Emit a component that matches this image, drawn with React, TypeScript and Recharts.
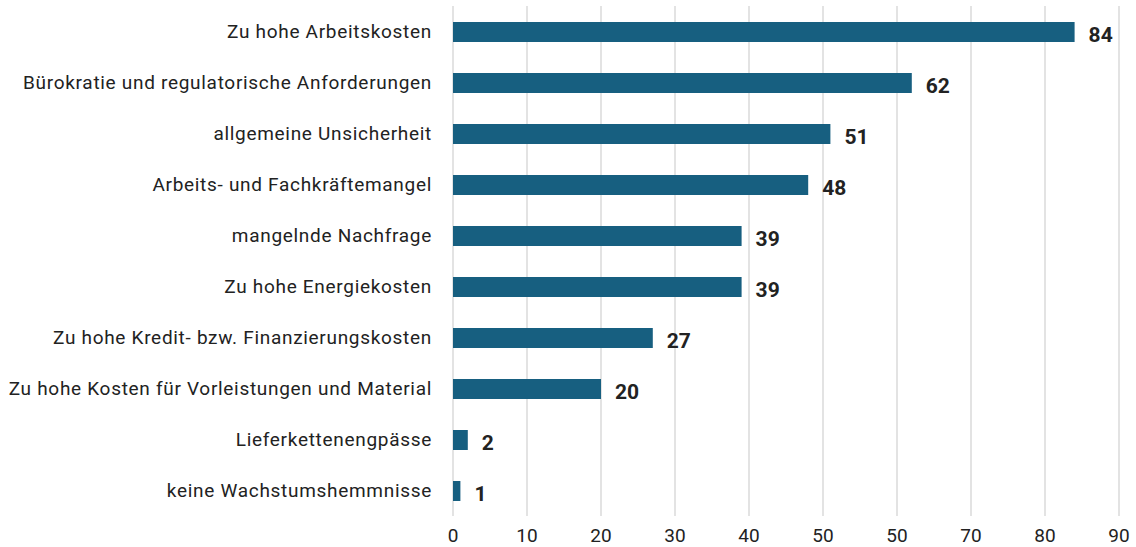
import React from 'react';
import { BarChart, Bar, XAxis, YAxis, CartesianGrid, LabelList } from 'recharts';

const categories = [
  'Zu hohe Arbeitskosten',
  'Bürokratie und regulatorische Anforderungen',
  'allgemeine Unsicherheit',
  'Arbeits- und Fachkräftemangel',
  'mangelnde Nachfrage',
  'Zu hohe Energiekosten',
  'Zu hohe Kredit- bzw. Finanzierungskosten',
  'Zu hohe Kosten für Vorleistungen und Material',
  'Lieferkettenengpässe',
  'keine Wachstumshemmnisse',
];
const values = [84, 62, 51, 48, 39, 39, 27, 20, 2, 1];
const tickValues = [0, 10, 20, 30, 40, 50, 60, 70, 80, 90];
const tickLabels = ['0', '10', '20', '30', '40', '50', '50', '70', '80', '90'];

const data = categories.map((name, i) => ({ name, value: values[i] }));

const FONT = 'Roboto, "DejaVu Sans", sans-serif';

const ValueLabel = (props: any) => {
  const { x, y, width, height, value } = props;
  return (
    <text
      x={x + width + 14}
      y={y + height / 2 + 3}
      dominantBaseline="central"
      textAnchor="start"
      fontFamily={FONT}
      fontWeight={700}
      fontSize={21}
      fill="#222222"
    >
      {value}
    </text>
  );
};

export default function App() {
  return (
    <div style={{ position: 'absolute', left: 0, top: 0, width: 1136, height: 547, background: '#fff' }}>
      <BarChart
        width={1136}
        height={547}
        data={data}
        layout="vertical"
        margin={{ top: 6, right: 17, bottom: 0, left: 0 }}
      >
        <CartesianGrid horizontal={false} vertical={true} stroke="#dadada" strokeWidth={1.5} />
        <XAxis
          type="number"
          domain={[0, 90]}
          ticks={tickValues}
          tickFormatter={(v: number) => tickLabels[tickValues.indexOf(v)]}
          axisLine={false}
          tickLine={false}
          tickSize={0}
          tickMargin={13}
          height={31}
          interval={0}
          tick={{ fontFamily: FONT, fontSize: 19, fill: '#222222' }}
        />
        <YAxis
          type="category"
          dataKey="name"
          width={453}
          axisLine={false}
          tickLine={false}
          tickSize={0}
          tickMargin={21}
          interval={0}
          tick={{ fontFamily: FONT, fontSize: 19, fill: '#222222', letterSpacing: 0.7 }}
        />
        <Bar dataKey="value" fill="#175f80" barSize={20} isAnimationActive={false}>
          <LabelList dataKey="value" content={ValueLabel} />
        </Bar>
      </BarChart>
    </div>
  );
}
